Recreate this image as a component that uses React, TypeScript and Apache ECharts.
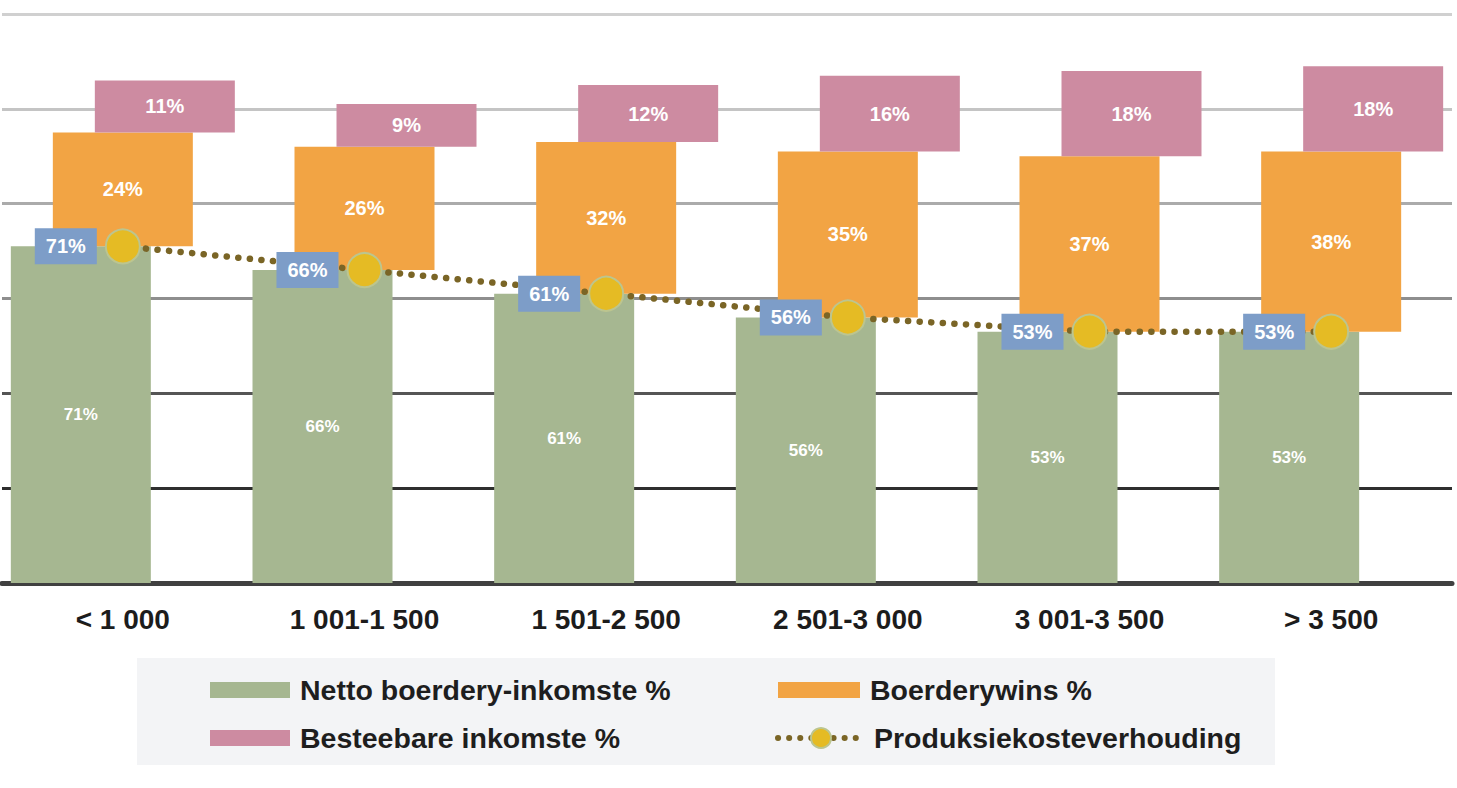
import React, { useEffect, useRef } from "react";
import * as echarts from "echarts";

const categories = ["< 1 000", "1 001-1 500", "1 501-2 500", "2 501-3 000", "3 001-3 500", "> 3 500"];
const nettoInkomste = [71, 66, 61, 56, 53, 53];
const boerderywins = [24, 26, 32, 35, 37, 38];
const besteebare = [11, 9, 12, 16, 18, 18];
const produksieVerhouding = [71, 66, 61, 56, 53, 53];
const yMin = 0;
const yMax = 120;
const yInterval = 20;

const NAME_G = "Netto boerdery-inkomste %";
const NAME_O = "Boerderywins %";
const NAME_P = "Besteebare inkomste %";
const NAME_L = "Produksiekosteverhouding";

const GREEN = "#a6b791";
const ORANGE = "#f2a444";
const PINK = "#cd8ba1";
const BLUE = "#7d9dc8";
const YELLOW = "#e5bb24";
const LINE = "#7a6526";
const FONT = "'Liberation Sans', Arial, sans-serif";

export default function App() {
  const ref = useRef<HTMLDivElement>(null);
  useEffect(() => {
    if (!ref.current) return;
    const chart = echarts.init(ref.current, null, { renderer: "svg" });
    const pinkBase = nettoInkomste.map((v, i) => v + boerderywins[i]);
    const barCommon = {
      type: "bar",
      barWidth: 140,
      barGap: "-70%",
    };
    const legendText = {
      fontSize: 28.5, fontWeight: "bold", color: "#1e1e1e", fontFamily: FONT, lineHeight: 32,
      padding: [0, 0, 0, 5],
    };
    const option: any = {
      animation: false,
      backgroundColor: "#ffffff",
      grid: { left: 2, right: 5, top: 14, bottom: 205, containLabel: false },
      graphic: [
        {
          type: "rect",
          left: 137,
          top: 658,
          shape: { width: 1138, height: 107 },
          style: { fill: "#f3f4f6" },
          z: 0,
          silent: true,
        },
      ],
      legend: [
        {
          data: [{ name: NAME_G, icon: "rect" }],
          left: 210, top: 674, padding: 0, itemWidth: 80, itemHeight: 16, itemGap: 10,
          textStyle: legendText, selectedMode: false,
        },
        {
          data: [{ name: NAME_P, icon: "rect" }],
          left: 210, top: 722, padding: 0, itemWidth: 80, itemHeight: 16, itemGap: 10,
          textStyle: legendText, selectedMode: false,
        },
        {
          data: [{ name: NAME_O, icon: "rect" }],
          left: 778, top: 674, padding: 0, itemWidth: 82, itemHeight: 16, itemGap: 10,
          textStyle: legendText, selectedMode: false,
        },
        {
          data: [{ name: NAME_L }],
          left: 775, top: 722, padding: 0, itemWidth: 86, itemHeight: 25, itemGap: 10,
          textStyle: legendText, selectedMode: false,
          lineStyle: { color: LINE, width: 6, type: [0.1, 11], cap: "round" },
        },
      ],
      xAxis: {
        type: "category",
        data: categories,
        axisLine: { show: true, lineStyle: { color: "#404040", width: 5 } },
        axisTick: { show: false },
        axisLabel: { fontSize: 28, fontWeight: "bold", color: "#1c1c1c", fontFamily: FONT, margin: 22 },
        splitLine: { show: false },
      },
      yAxis: {
        type: "value",
        min: yMin,
        max: yMax,
        interval: yInterval,
        axisLabel: { show: false },
        axisLine: { show: false },
        axisTick: { show: false },
        splitLine: {
          show: true,
          lineStyle: {
            width: 3,
            color: ["#3d3d3d", "#2e2e2e", "#555555", "#8e8e8e", "#ababab", "#c4c4c4", "#d0d0d0"],
          },
        },
      },
      series: [
        {
          ...barCommon,
          name: NAME_G,
          stack: "g",
          data: nettoInkomste,
          itemStyle: { color: GREEN },
          label: {
            show: true, position: "inside", formatter: "{c}%", color: "#ffffff",
            fontSize: 17, fontWeight: "bold", fontFamily: FONT,
          },
        },
        {
          ...barCommon,
          name: "_baseO",
          stack: "o",
          data: nettoInkomste,
          itemStyle: { color: "rgba(0,0,0,0)" },
          silent: true,
          label: { show: false },
        },
        {
          ...barCommon,
          name: NAME_O,
          stack: "o",
          data: boerderywins,
          itemStyle: { color: ORANGE },
          label: {
            show: true, position: "inside", formatter: "{c}%", color: "#ffffff",
            fontSize: 20, fontWeight: "bold", fontFamily: FONT,
          },
        },
        {
          ...barCommon,
          name: "_baseP",
          stack: "p",
          data: pinkBase,
          itemStyle: { color: "rgba(0,0,0,0)" },
          silent: true,
          label: { show: false },
        },
        {
          ...barCommon,
          name: NAME_P,
          stack: "p",
          data: besteebare,
          itemStyle: { color: PINK },
          label: {
            show: true, position: "inside", formatter: "{c}%", color: "#ffffff",
            fontSize: 20, fontWeight: "bold", fontFamily: FONT,
          },
        },
        {
          type: "line",
          name: NAME_L,
          data: produksieVerhouding,
          symbol: "circle",
          symbolSize: 34,
          z: 5,
          itemStyle: { color: YELLOW, borderColor: "#bcc58f", borderWidth: 2 },
          lineStyle: { color: LINE, width: 6.5, type: [0.1, 11.5], cap: "round" },
          label: {
            show: true,
            position: "left",
            distance: 8,
            formatter: "{c}%",
            color: "#ffffff",
            backgroundColor: BLUE,
            padding: [9, 11, 7, 11],
            fontSize: 20,
            fontWeight: "bold",
            fontFamily: FONT,
          },
        },
      ],
    };
    chart.setOption(option);
    return () => chart.dispose();
  }, []);
  return (
    <div
      ref={ref}
      style={{ position: "fixed", left: 0, top: 0, width: 1457, height: 788, background: "#fff" }}
    />
  );
}
